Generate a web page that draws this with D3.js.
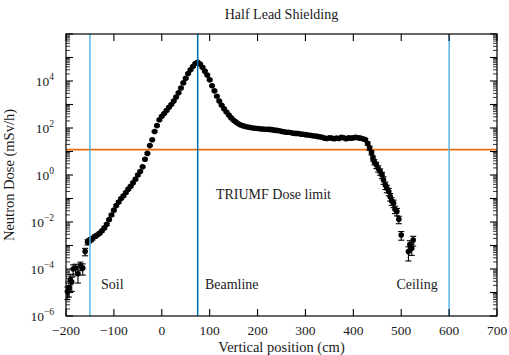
<!DOCTYPE html>
<html>
<head>
<meta charset="utf-8">
<script src="https://cdn.jsdelivr.net/npm/d3@7"></script>
<style>
  body { margin: 0; background: #fff; }
  text { font-family: "Liberation Serif", "Times New Roman", serif; fill: #1a1a1a; }
</style>
</head>
<body>
<div id="chart"></div>
<script>
// measured points: vertical position (cm), neutron dose (mSv/h), relative error
var position = [
  -197, -194, -191, -188, -185, -180, -175, -170, -165, -160, -155, -152, -148,
  -145, -140, -135, -130, -125, -120, -115, -110, -105, -100,
  -95, -90, -85, -80, -75, -70, -65, -60, -55, -50,
  -45, -40, -35, -30, -25, -20, -15, -10, -5, 0,
  5, 10, 15, 20, 25, 30, 35, 40, 45, 50,
  55, 60, 65, 70, 75, 80, 85, 90, 95, 100,
  105, 110, 115, 120, 125, 130, 135, 140, 145, 150,
  155, 160, 165, 170, 175, 180, 185, 190, 195, 200,
  205, 210, 215, 220, 225, 230, 235, 240, 245, 250,
  255, 260, 265, 270, 275, 280, 285, 290, 295, 300,
  305, 310, 315, 320, 325, 330, 335, 340, 345, 350,
  355, 360, 365, 370, 375, 380, 385, 390, 395, 400,
  405, 410, 415, 420, 425, 430,
  434, 438, 441, 444, 448, 452, 456, 460, 463, 467,
  470, 474, 477, 480, 484, 487, 491, 495, 500,
  515, 518, 522, 525
];
var dose = [
  1.1e-5, 1.6e-5, 3.5e-5, 2.8e-5, 1.0e-4, 1.1e-4, 6.3e-5, 1.4e-4, 1.1e-4, 5.6e-4, 1.4e-3, 1.6e-3, 1.8e-3,
  2.0e-3, 2.4e-3, 2.8e-3, 3.3e-3, 4.2e-3, 5.6e-3, 7.9e-3, 1.26e-2, 2.0e-2, 3.2e-2,
  5.0e-2, 7.1e-2, 0.10, 0.13, 0.18, 0.25, 0.33, 0.47, 0.66, 1.0,
  1.41, 2.24, 4.7, 8.3, 17.8, 31.6, 71, 126, 224, 316,
  417, 562, 759, 1000, 1413, 2089, 3162, 5012, 8318, 13183,
  20893, 30200, 41687, 54954, 63096, 52481, 38019, 26303, 17783, 11220,
  6310, 3802, 2239, 1413, 933, 661, 479, 355, 269, 214,
  178, 151, 135, 123, 115, 110, 105, 100, 98, 95,
  93, 91, 89, 89, 87, 85, 81, 79, 76, 72,
  69, 66, 66, 63, 60, 59, 58, 55, 54, 52,
  50, 49, 47, 46, 44, 42, 40, 37, 36, 38,
  37, 35, 37, 36, 40, 38, 35, 38, 37, 38,
  40, 38, 37, 35, 32, 22,
  14, 8.9, 5.2, 3.6, 2.7, 1.9, 1.4, 1.0, 0.62, 0.37,
  0.27, 0.20, 0.12, 0.079, 0.063, 0.035, 0.028, 0.013, 2.8e-3,
  5.5e-4, 1.1e-3, 7.6e-4, 1.7e-3
];
var relErr = [
  0.55, 0.6, 0.7, 0.6, 0.5, 0.45, 0.6, 0.4, 0.5, 0.35, 0.25, 0.2, 0.2,
  0.15, 0.15, 0.12, 0.12, 0.1, 0.1, 0.1, 0.1, 0.1, 0.1,
  0.1, 0.1, 0.1, 0.1, 0.1, 0.1, 0.1, 0.1, 0.1, 0.1,
  0.08, 0.08, 0.08, 0.08, 0.08, 0.08, 0.08, 0.08, 0.08, 0.08,
  0.08, 0.08, 0.08, 0.08, 0.08, 0.08, 0.08, 0.08, 0.08, 0.08,
  0.08, 0.08, 0.08, 0.08, 0.08, 0.08, 0.08, 0.08, 0.08, 0.08,
  0.08, 0.08, 0.08, 0.08, 0.08, 0.08, 0.08, 0.08, 0.08, 0.08,
  0.08, 0.08, 0.08, 0.08, 0.08, 0.08, 0.08, 0.08, 0.08, 0.08,
  0.08, 0.08, 0.08, 0.08, 0.08, 0.08, 0.08, 0.08, 0.08, 0.08,
  0.08, 0.08, 0.08, 0.08, 0.08, 0.08, 0.08, 0.08, 0.08, 0.08,
  0.08, 0.08, 0.08, 0.08, 0.08, 0.08, 0.08, 0.08, 0.08, 0.08,
  0.08, 0.08, 0.08, 0.08, 0.08, 0.08, 0.08, 0.08, 0.08, 0.08,
  0.08, 0.08, 0.08, 0.1, 0.1, 0.15,
  0.2, 0.2, 0.25, 0.25, 0.3, 0.3, 0.3, 0.3, 0.35, 0.35,
  0.35, 0.35, 0.35, 0.35, 0.35, 0.35, 0.35, 0.35, 0.4,
  0.6, 0.45, 0.5, 0.45
];

// reference lines
var wallPositions = [-150, 75, 600];
var wallNames = ["Soil", "Beamline", "Ceiling"];
var doseLimit = 12;
var doseLimitName = "TRIUMF Dose limit";

// axis ticks
var xTicks = [-200, -100, 0, 100, 200, 300, 400, 500, 600, 700];
var yDecades = [-6, -5, -4, -3, -2, -1, 0, 1, 2, 3, 4, 5, 6];
var yLabelled = [-6, -4, -2, 0, 2, 4];

var margin = {top: 34, right: 12, bottom: 39, left: 66},
    width = 509 - margin.left - margin.right,
    height = 355 - margin.top - margin.bottom;

var svg = d3.select("#chart")
    .append("svg")
    .attr("width", width + margin.left + margin.right)
    .attr("height", height + margin.top + margin.bottom)
    .append("g")
    .attr("transform", "translate(" + margin.left + "," + margin.top + ")");

var x = d3.scaleLinear().domain([-200, 700]).range([0, width]);
var y = d3.scaleLog().domain([1e-6, 1e6]).range([height, 0]);

var data = position.map(function(p, i) {
    return {x: p, v: dose[i], e: relErr[i]};
});

// dose limit line
svg.append("line")
    .attr("x1", 0).attr("x2", width)
    .attr("y1", y(doseLimit)).attr("y2", y(doseLimit))
    .attr("stroke", "#ec6c0c")
    .attr("stroke-width", 1.7);

// error bars
var eb = svg.append("g").attr("stroke", "#000").attr("stroke-width", 1.1);
data.forEach(function(d) {
    var lo = Math.max(d.v * (1 - d.e), 1.2e-6), hi = d.v * (1 + d.e);
    eb.append("line")
        .attr("x1", x(d.x)).attr("x2", x(d.x))
        .attr("y1", y(lo)).attr("y2", y(hi));
    eb.append("line")
        .attr("x1", x(d.x) - 3).attr("x2", x(d.x) + 3)
        .attr("y1", y(lo)).attr("y2", y(lo));
    eb.append("line")
        .attr("x1", x(d.x) - 3).attr("x2", x(d.x) + 3)
        .attr("y1", y(hi)).attr("y2", y(hi));
});

svg.append("g").selectAll("circle")
    .data(data)
    .enter().append("circle")
    .attr("cx", function(d) { return x(d.x); })
    .attr("cy", function(d) { return y(d.v); })
    .attr("r", 2.8)
    .attr("fill", "#000");

// wall / beamline lines
svg.selectAll(".wall")
    .data(wallPositions)
    .enter().append("line")
    .attr("x1", function(d) { return x(d); })
    .attr("x2", function(d) { return x(d); })
    .attr("y1", 0).attr("y2", height)
    .attr("stroke", function(d, i) { return i == 1 ? "#0072b2" : "#56b4e9"; })
    .attr("stroke-width", 1.5);

// labels inside the plot
var labelX = [-127, 90, 490];
svg.selectAll(".wallname")
    .data(wallNames)
    .enter().append("text")
    .attr("x", function(d, i) { return x(labelX[i]); })
    .attr("y", y(1.4e-5))
    .style("font-size", "14px")
    .text(function(d) { return d; });

svg.append("text")
    .attr("x", x(113))
    .attr("y", y(0.095))
    .style("font-size", "14px")
    .text(doseLimitName);

// frame
svg.append("rect")
    .attr("width", width).attr("height", height)
    .attr("fill", "none").attr("stroke", "#000").attr("stroke-width", 1.2);

// x ticks, inward on bottom and top
var ticks = svg.append("g").attr("stroke", "#000").attr("stroke-width", 1.1);
xTicks.forEach(function(t) {
    ticks.append("line").attr("x1", x(t)).attr("x2", x(t)).attr("y1", height).attr("y2", height - 7);
    ticks.append("line").attr("x1", x(t)).attr("x2", x(t)).attr("y1", 0).attr("y2", 7);
});
svg.selectAll(".xlab")
    .data(xTicks)
    .enter().append("text")
    .attr("x", function(d) { return x(d); })
    .attr("y", height + 19)
    .attr("text-anchor", "middle")
    .style("font-size", "13.5px")
    .text(function(d) { return d < 0 ? "\u2212" + (-d) : d; });

// y ticks, major at decades and minor at 2..9
yDecades.forEach(function(k) {
    var v = Math.pow(10, k);
    ticks.append("line").attr("x1", 0).attr("x2", 7).attr("y1", y(v)).attr("y2", y(v));
    ticks.append("line").attr("x1", width).attr("x2", width - 7).attr("y1", y(v)).attr("y2", y(v));
    if (k < 6) {
        for (var m = 2; m < 10; m++) {
            var mv = m * v;
            ticks.append("line").attr("x1", 0).attr("x2", 4).attr("y1", y(mv)).attr("y2", y(mv)).attr("stroke-width", 0.8);
            ticks.append("line").attr("x1", width).attr("x2", width - 4).attr("y1", y(mv)).attr("y2", y(mv)).attr("stroke-width", 0.8);
        }
    }
});
var ylab = svg.selectAll(".ylab")
    .data(yLabelled)
    .enter().append("text")
    .attr("x", -12)
    .attr("y", function(d) { return y(Math.pow(10, d)) + 5; })
    .attr("text-anchor", "end")
    .style("font-size", "13.5px");
ylab.append("tspan").text("10");
ylab.append("tspan")
    .attr("dy", -6)
    .style("font-size", "9.5px")
    .text(function(d) { return d < 0 ? "\u2212" + (-d) : d; });

// titles
svg.append("text")
    .attr("x", width / 2)
    .attr("y", -15)
    .attr("text-anchor", "middle")
    .style("font-size", "14px")
    .text("Half Lead Shielding");

svg.append("text")
    .attr("x", width / 2)
    .attr("y", height + 36)
    .attr("text-anchor", "middle")
    .style("font-size", "14.5px")
    .text("Vertical position (cm)");

svg.append("text")
    .attr("transform", "rotate(-90)")
    .attr("x", -height / 2)
    .attr("y", -52)
    .attr("text-anchor", "middle")
    .style("font-size", "14.5px")
    .text("Neutron Dose (mSv/h)");
</script>
</body>
</html>
